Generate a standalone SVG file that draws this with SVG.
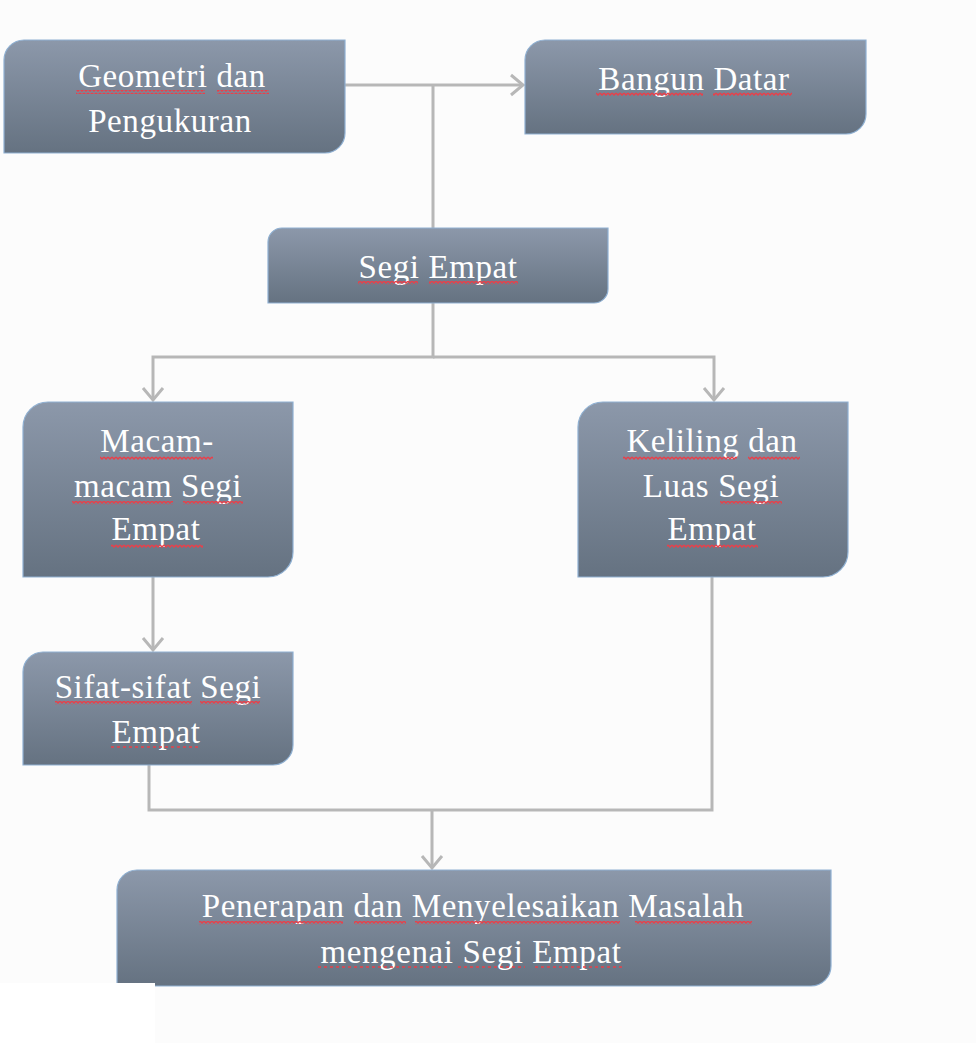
<svg xmlns="http://www.w3.org/2000/svg" width="976" height="1043" viewBox="0 0 976 1043">
<defs>
<linearGradient id="nodeGrad" x1="0" y1="0" x2="0" y2="1">
<stop offset="0" stop-color="#8c98aa"/>
<stop offset="1" stop-color="#657281"/>
</linearGradient>
<marker id="arrow" markerUnits="userSpaceOnUse" markerWidth="20" markerHeight="26" viewBox="0 0 20 26" refX="15" refY="13" orient="auto">
<path d="M3,3 L15,13 L3,23" fill="none" stroke="#b7b7b7" stroke-width="3"/>
</marker>
<pattern id="squig" patternUnits="userSpaceOnUse" width="4" height="4">
<path d="M0,1 L2,3 L4,1" fill="none" stroke="#e8404a" stroke-width="1.5"/>
</pattern>
</defs>
<style>
.node{fill:url(#nodeGrad);stroke:#8fb0d2;stroke-width:1.2}
.lbl{font-family:"Liberation Serif","Times New Roman",serif;font-size:33px;fill:#ffffff;text-anchor:middle;letter-spacing:0.6px}
.conn{fill:none;stroke:#b7b7b7;stroke-width:3}
.sq{fill:url(#squig)}
.dot{stroke:#e8404a;stroke-width:1.5;stroke-dasharray:3 3;fill:none}
</style>
<rect x="0" y="0" width="976" height="1043" fill="#fcfcfc"/>

<g id="connectors">
<path class="conn" d="M345,85 H523" marker-end="url(#arrow)"/>
<path class="conn" d="M433,228 V85"/>
<path class="conn" d="M433,303 V357 H153 V400" marker-end="url(#arrow)"/>
<path class="conn" d="M433,357 H714 V400" marker-end="url(#arrow)"/>
<path class="conn" d="M153,577 V650" marker-end="url(#arrow)"/>
<path class="conn" d="M149,765 V810 H712 V577"/>
<path class="conn" d="M432,810 V868" marker-end="url(#arrow)"/>
</g>

<g id="node-geometri">
<path class="node" d="M24,40 H345 V133 A20,20 0 0 1 325,153 H4 V60 A20,20 0 0 1 24,40 Z"/>
<text class="lbl" x="172" y="87">Geometri  dan</text>
<text class="lbl" x="170" y="132">Pengukuran</text>
<rect class="sq" x="76" y="90" width="129" height="4"/>
<rect class="sq" x="217" y="90" width="52" height="4"/>
</g>

<g id="node-bangun">
<path class="node" d="M545,40 H866 V114 A20,20 0 0 1 846,134 H525 V60 A20,20 0 0 1 545,40 Z"/>
<text class="lbl" x="694" y="90">Bangun  Datar</text>
<rect class="sq" x="596" y="92" width="107" height="4"/>
<rect class="sq" x="713" y="92" width="79" height="4"/>
</g>

<g id="node-segiempat">
<path class="node" d="M282,228 H608 V289 A14,14 0 0 1 594,303 H268 V242 A14,14 0 0 1 282,228 Z"/>
<text class="lbl" x="438" y="278">Segi Empat</text>
<rect class="sq" x="358" y="281" width="60" height="4"/>
<rect class="sq" x="429" y="281" width="89" height="4"/>
</g>

<g id="node-macam">
<path class="node" d="M48,402 H293 V552 A25,25 0 0 1 268,577 H23 V427 A25,25 0 0 1 48,402 Z"/>
<text class="lbl" x="157" y="452">Macam-</text>
<text class="lbl" x="158" y="497">macam  Segi</text>
<text class="lbl" x="156" y="540">Empat</text>
<rect class="sq" x="100" y="456" width="113" height="4"/>
<rect class="sq" x="72" y="501" width="101" height="4"/>
<rect class="sq" x="183" y="501" width="60" height="4"/>
<rect class="sq" x="111" y="544" width="92" height="4"/>
</g>

<g id="node-keliling">
<path class="node" d="M603,402 H848 V552 A25,25 0 0 1 823,577 H578 V427 A25,25 0 0 1 603,402 Z"/>
<text class="lbl" x="712" y="452">Keliling  dan</text>
<text class="lbl" x="711" y="497">Luas Segi</text>
<text class="lbl" x="712" y="540">Empat</text>
<rect class="sq" x="623" y="456" width="114" height="4"/>
<rect class="sq" x="748" y="456" width="52" height="4"/>
<rect class="sq" x="720" y="501" width="62" height="4"/>
<rect class="sq" x="667" y="544" width="91" height="4"/>
</g>

<g id="node-sifat">
<path class="node" d="M43,652 H293 V745 A20,20 0 0 1 273,765 H23 V672 A20,20 0 0 1 43,652 Z"/>
<text class="lbl" x="158" y="698">Sifat-sifat Segi</text>
<text class="lbl" x="156" y="743">Empat</text>
<rect class="sq" x="55" y="701" width="137" height="4"/>
<rect class="sq" x="200" y="701" width="60" height="4"/>
<line class="dot" x1="111" y1="747" x2="200" y2="747"/>
</g>

<g id="node-penerapan">
<path class="node" d="M137,870 H831 V966 A20,20 0 0 1 811,986 H117 V890 A20,20 0 0 1 137,870 Z"/>
<text class="lbl" x="473" y="917">Penerapan  dan Menyelesaikan  Masalah</text>
<text class="lbl" x="471" y="963">mengenai  Segi Empat</text>
<rect class="sq" x="199" y="921" width="144" height="4"/>
<rect class="sq" x="354" y="921" width="52" height="4"/>
<rect class="sq" x="415" y="921" width="205" height="4"/>
<rect class="sq" x="635" y="921" width="117" height="4"/>
<line class="dot" x1="318" y1="967" x2="450" y2="967"/>
<line class="dot" x1="458" y1="967" x2="525" y2="967"/>
<line class="dot" x1="535" y1="967" x2="625" y2="967"/>
</g>

<rect x="0" y="983" width="155" height="60" fill="#ffffff"/>
</svg>
